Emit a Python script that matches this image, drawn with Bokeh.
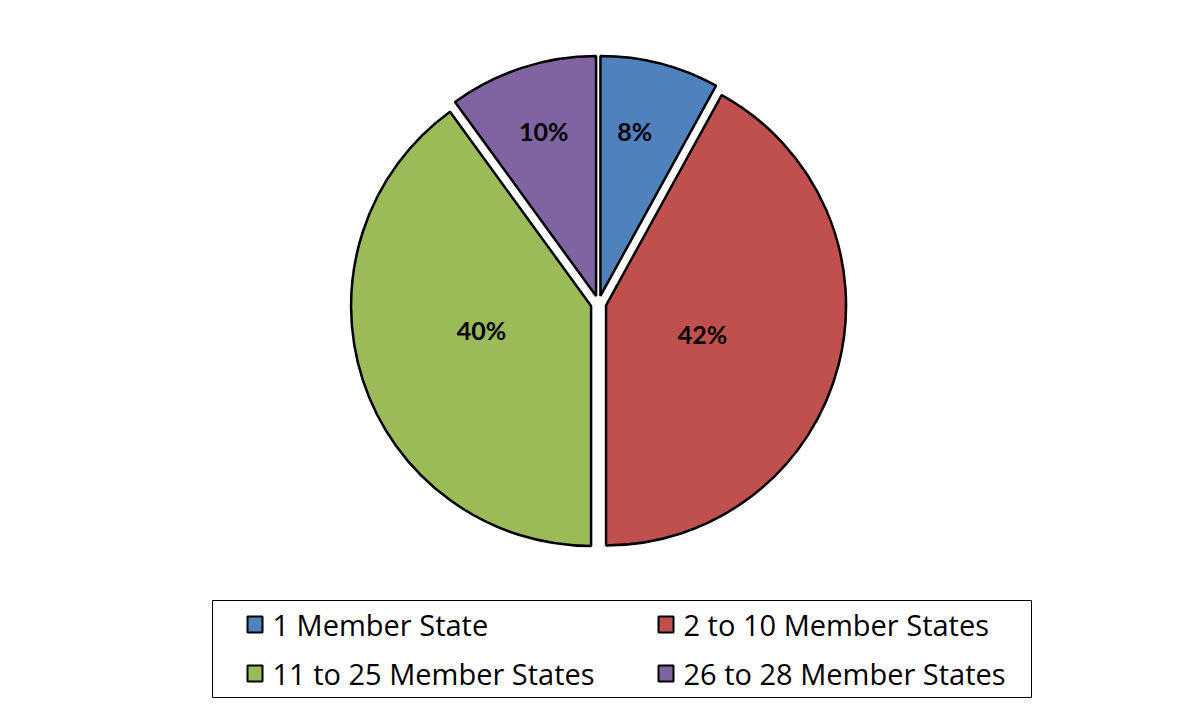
import math
from bokeh.plotting import figure
from bokeh.models import Range1d
from bokeh.core.properties import value
from bokeh.embed import file_html
from bokeh.resources import INLINE

categories = ["1 Member State", "2 to 10 Member States", "11 to 25 Member States", "26 to 28 Member States"]
shares = [8, 42, 40, 10]
labels = ["8%", "42%", "40%", "10%"]
colors = ["#4F81BD", "#C0504D", "#9BBB59", "#8064A2"]
# label placement (style): radial fraction and angular tweak in degrees
label_radius = [0.736, 0.451, 0.50, 0.756]
label_tweak = [2.6, -1.7, -5.0, -0.4]

W, H = 1165, 700
p = figure(width=W, height=H, output_backend="svg", toolbar_location=None,
           x_range=Range1d(0, W), y_range=Range1d(0, H), min_border=0)
p.axis.visible = False
p.grid.visible = False
p.outline_line_color = None
p.background_fill_color = "white"

def X(sx):
    return sx
def Y(sy):
    return H - sy

cx, cy, R, d = X(598), Y(303), 240, 7.8
total = sum(shares)
ang = math.pi / 2
for i, s in enumerate(shares):
    sweep = 2 * math.pi * s / total
    a0 = ang
    a1 = ang - sweep
    mid = (a0 + a1) / 2
    ox = cx + d * math.cos(mid)
    oy = cy + d * math.sin(mid)
    p.wedge(x=[ox], y=[oy], radius=R, start_angle=a1, end_angle=a0, direction="anticlock",
            fill_color=colors[i], line_color="black", line_width=2.5)
    la = mid + math.radians(label_tweak[i])
    lr = label_radius[i] * R
    p.text(x=[cx + lr * math.cos(la)], y=[cy + lr * math.sin(la)], text=[labels[i]],
           text_font=value("Lato"), text_font_style="bold", text_font_size="25px",
           text_align="center", text_baseline="middle", text_color="black")
    ang = a1

# legend box
p.quad(left=[X(212)], right=[X(1031)], top=[Y(600)], bottom=[Y(697)],
       fill_color="white", line_color="black", line_width=1)
pos = [(246, 624), (657, 624), (246, 673), (657, 673)]
for i, c in enumerate(categories):
    sx, sy = pos[i]
    p.rect(x=[X(sx + 8.5)], y=[Y(sy)], width=15, height=16, fill_color=colors[i],
           line_color="black", line_width=2)
    p.text(x=[X(sx + 26)], y=[Y(sy)], text=[c], text_font=value("Open Sans"),
           text_font_size="29px", text_align="left", text_baseline="middle", text_color="black")

open("out.html", "w").write(file_html(p, INLINE))
